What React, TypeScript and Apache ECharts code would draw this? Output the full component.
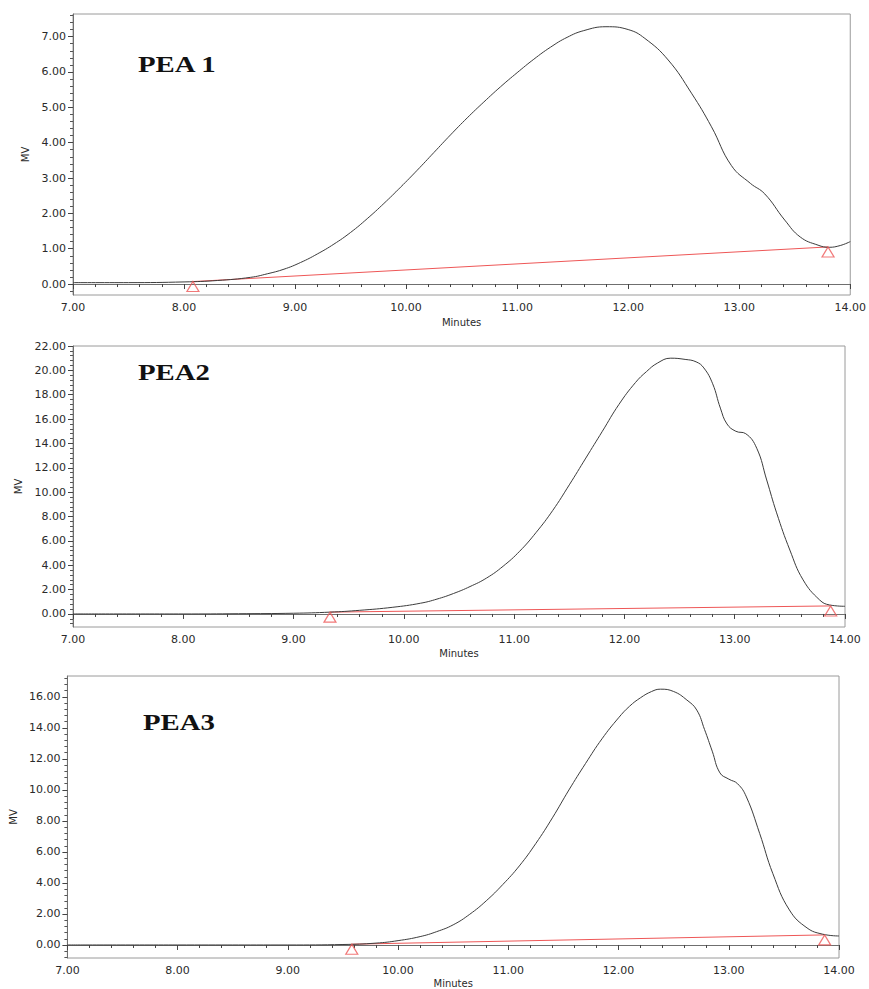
import React, { useEffect, useRef } from "react";
import * as echarts from "echarts";

// ---------- data (minutes, mV) ----------
const pea1Curve: [number, number][] = [
  [7.0, 0.04], [7.5, 0.04], [8.0, 0.06], [8.3, 0.1], [8.6, 0.19], [8.75, 0.29],
  [8.9, 0.42], [9.05, 0.61], [9.2, 0.85], [9.35, 1.13], [9.5, 1.46], [9.65, 1.85],
  [9.8, 2.28], [9.95, 2.74], [10.1, 3.22], [10.25, 3.72], [10.4, 4.22], [10.55, 4.7],
  [10.7, 5.15], [10.85, 5.58], [11.0, 5.98], [11.15, 6.36], [11.3, 6.7], [11.45, 6.98],
  [11.6, 7.17], [11.8, 7.28], [12.0, 7.2], [12.15, 6.95], [12.36, 6.34], [12.57, 5.4],
  [12.75, 4.45], [12.93, 3.35], [13.1, 2.85], [13.23, 2.55], [13.41, 1.81], [13.55, 1.33],
  [13.71, 1.1], [13.81, 1.04], [13.91, 1.09], [14.0, 1.2],
];
const pea1Baseline: [number, number][] = [[8.08, 0.07], [13.8, 1.05]];

const pea2Curve: [number, number][] = [
  [7.0, 0.0], [8.0, 0.0], [8.5, 0.02], [9.0, 0.06], [9.33, 0.15], [9.6, 0.3],
  [9.9, 0.55], [10.15, 0.88], [10.3, 1.22], [10.45, 1.68], [10.6, 2.25], [10.75, 2.95],
  [10.9, 3.92], [11.05, 5.15], [11.2, 6.7], [11.35, 8.5], [11.5, 10.6], [11.65, 12.8],
  [11.8, 15.0], [11.95, 17.2], [12.1, 19.0], [12.2, 19.9], [12.3, 20.6], [12.42, 21.0],
  [12.55, 20.9], [12.65, 20.7], [12.72, 20.2], [12.8, 18.9], [12.87, 16.9], [12.93, 15.6],
  [13.01, 15.0], [13.1, 14.8], [13.2, 13.6], [13.29, 11.0], [13.38, 8.3], [13.5, 5.25],
  [13.62, 2.8], [13.77, 1.15], [13.86, 0.74], [14.0, 0.63],
];
const pea2Baseline: [number, number][] = [[9.33, 0.15], [13.87, 0.66]];

const pea3Curve: [number, number][] = [
  [7.0, 0.0], [8.0, 0.0], [9.0, 0.0], [9.5, 0.03], [9.8, 0.12], [10.0, 0.28],
  [10.2, 0.54], [10.35, 0.86], [10.5, 1.3], [10.65, 1.98], [10.8, 2.85], [10.95, 3.9],
  [11.1, 5.1], [11.25, 6.55], [11.4, 8.2], [11.55, 10.0], [11.7, 11.7], [11.85, 13.3],
  [12.0, 14.65], [12.1, 15.4], [12.2, 15.95], [12.3, 16.35], [12.38, 16.5], [12.5, 16.35],
  [12.62, 15.8], [12.71, 15.15], [12.78, 13.9], [12.85, 12.5], [12.92, 11.1], [13.0, 10.7],
  [13.08, 10.4], [13.16, 9.55], [13.28, 7.2], [13.4, 4.6], [13.55, 2.26], [13.71, 1.1],
  [13.85, 0.7], [14.0, 0.58],
];
const pea3Baseline: [number, number][] = [[9.58, 0.05], [13.87, 0.65]];

const titles = ["PEA 1", "PEA2", "PEA3"];
const pea1YTicks = [0, 1, 2, 3, 4, 5, 6, 7];
const pea2YTicks = [0, 2, 4, 6, 8, 10, 12, 14, 16, 18, 20, 22];
const pea3YTicks = [0, 2, 4, 6, 8, 10, 12, 14, 16];
const xTicks = [7, 8, 9, 10, 11, 12, 13, 14];

// ---------- layout ----------
const panels = [
  { curve: pea1Curve, base: pea1Baseline, yTicks: pea1YTicks, ymin: -0.31, ymax: 7.64, minor: 0.2,
    left: 73, top: 14, width: 780, height: 281, title: { x: 138, y: 64 }, mvGap: 37, minGap: 22 },
  { curve: pea2Curve, base: pea2Baseline, yTicks: pea2YTicks, ymin: -1.07, ymax: 22, minor: 0.4,
    left: 73, top: 346, width: 772, height: 281, title: { x: 138, y: 372 }, mvGap: 44, minGap: 21 },
  { curve: pea3Curve, base: pea3Baseline, yTicks: pea3YTicks, ymin: -0.84, ymax: 17.35, minor: 0.4,
    left: 67, top: 676, width: 772, height: 282, title: { x: 143, y: 722 }, mvGap: 44, minGap: 20 },
];

const FONT = "DejaVu Sans";
const LABEL = "#2a2a2a";
const AXIS = "#6f6f6f";
const RED = "#ee5757";

function minorValues(min: number, max: number, step: number, majors: number[]) {
  const out: number[] = [];
  const start = Math.ceil(min / step - 1e-9);
  const end = Math.floor(max / step + 1e-9);
  for (let i = start; i <= end; i++) {
    const v = +(i * step).toFixed(4);
    if (!majors.some((m) => Math.abs(m - v) < 1e-6)) out.push(v);
  }
  return out;
}

export default function App() {
  const ref = useRef<HTMLDivElement>(null);
  useEffect(() => {
    if (!ref.current) return;
    const chart = echarts.init(ref.current, undefined, { renderer: "svg" });

    const grid: any[] = [];
    const xAxis: any[] = [];
    const yAxis: any[] = [];
    const series: any[] = [];
    const graphic: any[] = [];

    panels.forEach((p, i) => {
      grid.push({
        left: p.left, top: p.top, width: p.width, height: p.height,
        show: true, borderColor: "#9a9a9a", borderWidth: 1, backgroundColor: "transparent",
        containLabel: false,
      });
      xAxis.push({
        type: "value", gridIndex: i, min: 7, max: 14, interval: 1,
        name: "Minutes", nameLocation: "middle", nameGap: p.minGap,
        nameTextStyle: { fontFamily: FONT, fontSize: 10, color: LABEL },
        axisLine: { show: true, lineStyle: { color: AXIS, width: 1 } },
        axisTick: { show: true, length: 5, lineStyle: { color: "#444" } },
        minorTick: { show: true, splitNumber: 5, length: 3, lineStyle: { color: "#444" } },
        splitLine: { show: false },
        axisLabel: {
          margin: 7, fontFamily: FONT, fontSize: 11, color: LABEL,
          formatter: (v: number) => v.toFixed(2),
          customValues: xTicks,
        },
      });
      yAxis.push({
        type: "value", gridIndex: i, min: p.ymin, max: p.ymax,
        name: "MV", nameLocation: "middle", nameGap: p.mvGap,
        nameTextStyle: { fontFamily: FONT, fontSize: 10, color: LABEL },
        axisLine: { show: true, lineStyle: { color: AXIS, width: 1 } },
        axisTick: { show: true, length: 5, lineStyle: { color: "#444" }, customValues: p.yTicks },
        splitLine: { show: false },
        axisLabel: {
          margin: 7, fontFamily: FONT, fontSize: 11, color: LABEL,
          formatter: (v: number) => v.toFixed(2),
          customValues: p.yTicks,
        },
      });
    });
    panels.forEach((p, i) => {
      yAxis.push({
        type: "value", gridIndex: i, min: p.ymin, max: p.ymax, position: "left",
        axisLine: { show: false },
        axisTick: {
          show: true, length: 3, lineStyle: { color: "#555" },
          customValues: minorValues(p.ymin, p.ymax, p.minor, p.yTicks),
        },
        axisLabel: { show: false },
        splitLine: { show: false },
      });
    });

    panels.forEach((p, i) => {
      series.push({
        type: "line", xAxisIndex: i, yAxisIndex: i, data: p.curve,
        showSymbol: false, symbol: "none", smooth: 0.45,
        lineStyle: { color: "#3c3c3c", width: 1 }, z: 3,
      });
      series.push({
        type: "line", xAxisIndex: i, yAxisIndex: i, data: p.base,
        symbol: "none", lineStyle: { color: RED, width: 1 }, z: 2,
      });
      series.push({
        type: "scatter", xAxisIndex: i, yAxisIndex: i, data: p.base,
        symbol: "triangle", symbolSize: [12, 10], symbolOffset: [0, 5],
        itemStyle: { color: "rgba(255,255,255,0)", borderColor: RED, borderWidth: 1.2 },
        z: 4,
      });
      graphic.push({
        type: "text", x: p.title.x, y: p.title.y, scaleX: 1.2,
        style: {
          text: titles[i], fontFamily: "Liberation Serif", fontWeight: "bold",
          fontSize: 24, fill: "#111", verticalAlign: "middle", align: "left",
        },
      });
    });

    chart.setOption({
      animation: false,
      backgroundColor: "#ffffff",
      grid, xAxis, yAxis, series, graphic,
    });
    return () => chart.dispose();
  }, []);

  return (
    <div
      ref={ref}
      style={{ position: "absolute", left: 0, top: 0, width: 869, height: 989 }}
    />
  );
}
